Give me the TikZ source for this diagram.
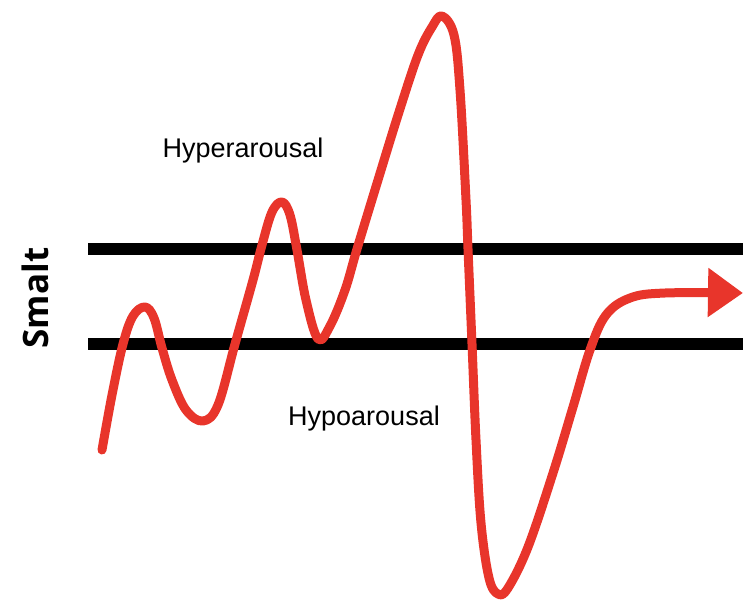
\documentclass[tikz,border=0pt]{standalone}
\usepackage{fontspec}
\setmainfont{Liberation Sans}
\newfontfamily\axisfont{Open Sans}
\usetikzlibrary{arrows.meta}
\definecolor{clrwave}{HTML}{E8352B}
\definecolor{clrband}{HTML}{000000}

\begin{document}
\begin{tikzpicture}[
    x=1pt, y=-1pt,
    band/.style={draw=clrband, line width=12pt},
    wave/.style={draw=clrwave, line width=9pt, line cap=round, line join=round},
    zonelabel/.style={font=\fontsize{27}{32}\selectfont, text=black, inner sep=0pt},
    axislabel/.style={font=\axisfont\bfseries\fontsize{35}{40}\selectfont, text=black, inner sep=0pt, rotate=90},
]
\useasboundingbox (0,0) rectangle (743,607);
% window of tolerance
\coordinate (top_l) at (88,249);
\coordinate (top_r) at (743,249);
\coordinate (bot_l) at (88,344);
\coordinate (bot_r) at (743,344);
\draw[band] (top_l) -- (top_r);
\draw[band] (bot_l) -- (bot_r);
% labels
\node[axislabel] (n_axis) at (35,298) {Smalt};
\node[zonelabel, anchor=base] (n_hyper) at (243,157) {Hyperarousal};
\node[zonelabel, anchor=base] (n_hypo) at (364,425) {Hypoarousal};
% arousal curve
\draw[wave, -{Triangle[length=35pt, width=47pt]}] plot[smooth, tension=0.6] coordinates {
    (102,450) (112,395) (123,344) (133,316) (145,307) (154,318) (162,348)
    (172,380) (186,410) (203,421) (218,405) (235,344) (253,280) (262,245)
    (272,212) (282,202) (290,215) (297,250) (306,300) (318,339) (330,326)
    (345,290) (357,249) (378,180) (399,112) (418,55) (432,27) (442,16)
    (454,35) (460,90) (466,200) (468,249) (472,344) (476,440)
    (481,523) (489,578) (498,594) (508,588) (528,547) (553,473) (573,407)
    (590,350) (606,315) (630,298) (665,293) (743,293)};
\end{tikzpicture}
\end{document}
